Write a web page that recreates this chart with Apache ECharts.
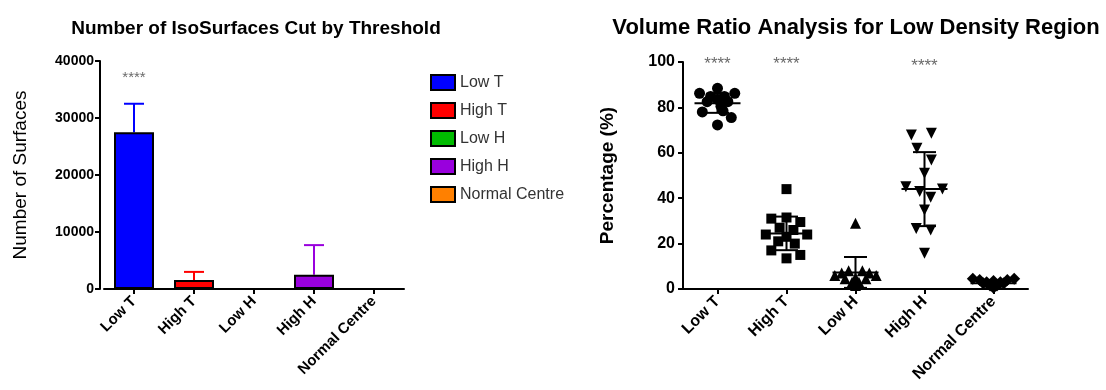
<!DOCTYPE html>
<html><head><meta charset="utf-8">
<script src="https://cdn.jsdelivr.net/npm/echarts@6/dist/echarts.min.js"></script>
<style>html,body{margin:0;padding:0;background:#fff}#c{width:1106px;height:390px}</style>
</head><body><div id="c"></div>
<script>
// ---- data ----
const categories = ['Low T', 'High T', 'Low H', 'High H', 'Normal Centre'];
const barColors = ['#0000FF', '#FF0000', '#00BB00', '#9900DD', '#FF8000'];
const surfaceMeans = [27500, 1600, 0, 2500, 0];
const surfaceSD = [5000, 1400, 0, 5200, 0];
const leftStars = [[0, 37000]];

const lowTValues   = [88.4, 86.2, 86.2, 84.8, 84.8, 83.5, 82.5, 82.5, 80.5, 78, 78.5, 75.5, 72.3];
const lowTOffsets  = [0, -0.26, 0.25, -0.1, 0.1, 0, -0.15, 0.15, 0.05, -0.22, 0.08, 0.2, 0];
const highTValues  = [44, 31, 31.5, 29.5, 27, 26, 24, 24, 23, 21, 20, 17, 15, 13.5];
const highTOffsets = [0, -0.22, 0, 0.2, -0.1, 0.1, -0.3, 0.3, 0, -0.12, 0.12, -0.22, 0.2, 0];
const lowHValues   = [29, 6, 7, 8, 8, 7, 6, 4.5, 4.5, 3, 3, 1.5, 5];
const lowHOffsets  = [0, -0.3, -0.2, -0.1, 0.1, 0.2, 0.3, -0.15, 0.15, -0.05, 0.05, 0, 0];
const highHValues  = [67.8, 68.6, 62, 56.8, 51, 45, 44, 42.9, 40.4, 34.8, 26.7, 26, 15.7];
const highHOffsets = [-0.19, 0.1, -0.11, 0.1, 0, -0.27, 0.26, -0.07, 0.09, 0, -0.12, 0.09, 0];
const normValues   = [4.5, 4, 3, 2, 3, 4, 4.5, 2.5, 2.5, 0.5, 1.5, 1.5, 3.5];
const normOffsets  = [-0.3, -0.2, -0.1, 0, 0.1, 0.2, 0.3, -0.15, 0.15, 0, -0.05, 0.05, 0];
const ratioMeans = [81.8, 24.5, 7.3, 44, 2.5];
const ratioSD    = [4.2, 7.4, 6.8, 16.3, 1.5];
const rightStars = [[0, 99], [1, 99], [3, 98.3]];

const groups = [
  { v: lowTValues, o: lowTOffsets, symbol: 'circle', size: 11, rot: 0 },
  { v: highTValues, o: highTOffsets, symbol: 'rect', size: 10, rot: 0 },
  { v: lowHValues, o: lowHOffsets, symbol: 'triangle', size: 11, rot: 0 },
  { v: highHValues, o: highHOffsets, symbol: 'triangle', size: 11, rot: 180 },
  { v: normValues, o: normOffsets, symbol: 'diamond', size: 12, rot: 0 }
];

const FONT = 'Liberation Sans, Arial, sans-serif';
const chart = echarts.init(document.getElementById('c'));

const axisLineStyle = { show: true, onZero: false, lineStyle: { color: '#000', width: 2 } };
const tickStyle = { show: true, length: 5, lineStyle: { color: '#000', width: 2 } };

const series = [];
categories.forEach((c, i) => {
  series.push({
    name: c, type: 'bar', stack: 'all', xAxisIndex: 0, yAxisIndex: 0,
    barWidth: 40, z: 3,
    itemStyle: { color: barColors[i], borderColor: '#000', borderWidth: 2 },
    data: categories.map((_, j) => (j === i ? surfaceMeans[i] : '-'))
  });
});
series.push({
  type: 'custom', xAxisIndex: 0, yAxisIndex: 0, z: 2,
  data: categories.map((_, i) => [i, surfaceMeans[i], surfaceSD[i]]),
  encode: { x: 0, y: 1 },
  renderItem: function (params, api) {
    const i = api.value(0), m = api.value(1), s = api.value(2);
    if (!s) return null;
    const p0 = api.coord([i, m]), p1 = api.coord([i, m + s]);
    const st = { stroke: barColors[i], lineWidth: 2 };
    return { type: 'group', children: [
      { type: 'line', shape: { x1: p0[0], y1: p0[1], x2: p1[0], y2: p1[1] }, style: st },
      { type: 'line', shape: { x1: p1[0] - 10, y1: p1[1], x2: p1[0] + 10, y2: p1[1] }, style: st }
    ] };
  }
});
series.push({
  type: 'scatter', xAxisIndex: 0, yAxisIndex: 0, symbolSize: 1,
  itemStyle: { color: 'rgba(0,0,0,0)' }, silent: true,
  label: { show: true, position: 'inside', formatter: '****', fontFamily: FONT, fontSize: 15, color: '#444' },
  data: leftStars
});
groups.forEach((g, i) => {
  series.push({
    type: 'scatter', xAxisIndex: 2, yAxisIndex: 1, z: 4,
    symbol: g.symbol, symbolSize: g.size, symbolRotate: g.rot,
    itemStyle: { color: '#000', opacity: 1 },
    data: g.v.map((v, k) => [i + g.o[k], v])
  });
});
series.push({
  type: 'custom', xAxisIndex: 1, yAxisIndex: 1, z: 5,
  data: categories.map((_, i) => [i, ratioMeans[i], ratioSD[i]]),
  encode: { x: 0, y: 1 },
  renderItem: function (params, api) {
    const i = api.value(0), m = api.value(1), s = api.value(2);
    const pm = api.coord([i, m]), pt = api.coord([i, m + s]), pb = api.coord([i, Math.max(0, m - s)]);
    const st = { stroke: '#000', lineWidth: 2 };
    return { type: 'group', children: [
      { type: 'line', shape: { x1: pm[0] - 23, y1: pm[1], x2: pm[0] + 23, y2: pm[1] }, style: st },
      { type: 'line', shape: { x1: pt[0], y1: pt[1], x2: pb[0], y2: pb[1] }, style: st },
      { type: 'line', shape: { x1: pt[0] - 11.5, y1: pt[1], x2: pt[0] + 11.5, y2: pt[1] }, style: st },
      { type: 'line', shape: { x1: pb[0] - 11.5, y1: pb[1], x2: pb[0] + 11.5, y2: pb[1] }, style: st }
    ] };
  }
});
series.push({
  type: 'scatter', xAxisIndex: 1, yAxisIndex: 1, symbolSize: 1,
  itemStyle: { color: 'rgba(0,0,0,0)' }, silent: true,
  label: { show: true, position: 'inside', formatter: '****', fontFamily: FONT, fontSize: 17, color: '#444' },
  data: rightStars
});

chart.setOption({
  animation: false,
  textStyle: { fontFamily: FONT },
  title: [
    { text: 'Number of IsoSurfaces Cut by Threshold', left: 251, top: 14, textAlign: 'center',
      textStyle: { fontFamily: FONT, fontSize: 19, fontWeight: 'bold', color: '#000' } },
    { text: 'Volume Ratio Analysis for Low Density Region', left: 851, top: 12, textAlign: 'center',
      textStyle: { fontFamily: FONT, fontSize: 22, fontWeight: 'bold', color: '#000' } }
  ],
  legend: {
    orient: 'vertical', left: 425, top: 69, itemWidth: 24, itemHeight: 15, itemGap: 11,
    icon: 'rect', data: categories,
    textStyle: { fontFamily: FONT, fontSize: 16, color: '#333' }
  },
  grid: [
    { left: 104, top: 61, width: 300, height: 228 },
    { left: 683, top: 62, width: 345, height: 227 }
  ],
  xAxis: [
    { type: 'category', gridIndex: 0, data: categories, axisLine: axisLineStyle,
      axisTick: Object.assign({ alignWithLabel: true }, tickStyle),
      axisLabel: { rotate: 45, margin: 10, fontFamily: FONT, fontSize: 15, fontWeight: 'bold', color: '#000' } },
    { type: 'category', gridIndex: 1, data: categories, axisLine: axisLineStyle,
      axisTick: Object.assign({ alignWithLabel: true }, tickStyle),
      axisLabel: { rotate: 45, margin: 10, fontFamily: FONT, fontSize: 16, fontWeight: 'bold', color: '#000' } },
    { type: 'value', gridIndex: 1, min: -0.5, max: 4.5, show: false }
  ],
  yAxis: [
    { type: 'value', gridIndex: 0, min: 0, max: 40000, interval: 10000, offset: 4,
      name: 'Number of Surfaces', nameLocation: 'middle', nameGap: 70,
      nameTextStyle: { fontFamily: FONT, fontSize: 19, color: '#000' },
      axisLine: axisLineStyle, axisTick: tickStyle, splitLine: { show: false },
      axisLabel: { margin: 6, formatter: function (v) { return String(v); },
        fontFamily: FONT, fontSize: 14, fontWeight: 'bold', color: '#000' } },
    { type: 'value', gridIndex: 1, min: 0, max: 100, interval: 20,
      name: 'Percentage (%)', nameLocation: 'middle', nameGap: 66,
      nameTextStyle: { fontFamily: FONT, fontSize: 19, fontWeight: 'bold', color: '#000' },
      axisLine: axisLineStyle, axisTick: tickStyle, splitLine: { show: false },
      axisLabel: { margin: 8, fontFamily: FONT, fontSize: 16, fontWeight: 'bold', color: '#000' } }
  ],
  series: series
});
</script>
</body></html>
